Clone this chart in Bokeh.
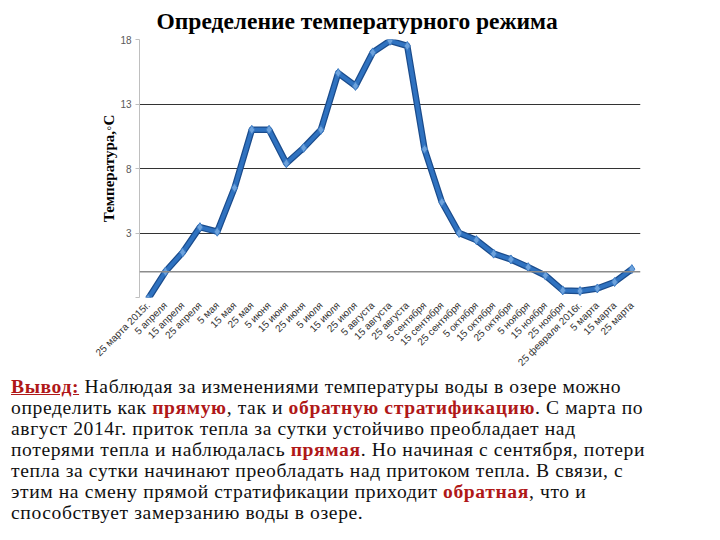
import math
from bokeh.plotting import figure
from bokeh.models import FixedTicker, Span, Div, Range1d
from bokeh.layouts import column
from bokeh.embed import file_html
from bokeh.resources import INLINE

dates = ["25 марта 2015г.", "5 апреля", "15 апреля", "25 апреля", "5 мая", "15 мая",
         "25 мая", "5 июня", "15 июня", "25 июня", "5 июля", "15 июля", "25 июля",
         "5 августа", "15 августа", "25 августа", "5 сентября", "15 сентября",
         "25 сентября", "5 октября", "15 октября", "25 октября", "5 ноября",
         "15 ноября", "25 ноября", "25 февраля 2016г.", "5 марта", "15 марта", "25 марта"]
temps = [-2.1, 0.0, 1.5, 3.45, 3.1, 6.5, 11.0, 11.0, 8.4, 9.6, 11.0, 15.4, 14.4,
         17.0, 17.9, 17.5, 9.5, 5.4, 3.0, 2.45, 1.4, 0.95, 0.35, -0.3, -1.45,
         -1.5, -1.3, -0.8, 0.2]
y_ticks = [-2, 3, 8, 13, 18]
y_tick_labels = {-2: "", 3: "3", 8: "8", 13: "13", 18: "18"}

p = figure(width=704, height=374, x_range=dates, y_range=Range1d(-2, 18),
           output_backend="svg", toolbar_location=None,
           min_border_left=139, min_border_right=64, min_border_top=0,
           min_border_bottom=70)
p.title.text = "Определение температурного режима"
p.title.text_font = "Liberation Serif"
p.title.text_font_size = "23.5px"
p.title.text_font_style = "bold"
p.title.text_color = "#000000"
p.title.align = "left"
p.title.offset = 17
p.title.standoff = 11

p.outline_line_color = None
p.background_fill_color = "white"
p.border_fill_color = "white"

p.xgrid.grid_line_color = None
p.ygrid.ticker = FixedTicker(ticks=y_ticks)
p.ygrid.grid_line_color = "#333333"
p.ygrid.grid_line_width = 1

p.yaxis.ticker = FixedTicker(ticks=y_ticks)
p.yaxis.major_label_overrides = y_tick_labels
p.yaxis.axis_label = "Температура,◦С"
p.yaxis.axis_label_text_font = "Liberation Serif"
p.yaxis.axis_label_text_font_size = "15px"
p.yaxis.axis_label_text_font_style = "bold"
p.yaxis.axis_label_text_color = "#000000"
p.yaxis.axis_label_standoff = 0
p.yaxis.axis_line_color = "#bfbfbf"
p.yaxis.major_tick_line_color = "#bfbfbf"
p.yaxis.major_tick_out = 4
p.yaxis.major_tick_in = 0
p.yaxis.minor_tick_line_color = None
p.yaxis.major_label_text_font = "Liberation Sans"
p.yaxis.major_label_text_font_size = "10px"
p.yaxis.major_label_text_color = "#595959"
p.yaxis.major_label_standoff = 4

p.xaxis.axis_line_color = None
p.xaxis.major_tick_line_color = None
p.xaxis.major_label_orientation = math.pi / 4
p.xaxis.major_label_text_font = "Liberation Sans"
p.xaxis.major_label_text_font_size = "10px"
p.xaxis.major_label_text_color = "#333333"
p.xaxis.major_label_standoff = 0

p.add_layout(Span(location=0, dimension="width", line_color="#8c8c8c", line_width=1.5))

p.line(dates, temps, line_color="#1b4c8c", line_width=6.5, line_join="round")
p.line(dates, temps, line_color="#2f72c0", line_width=4, line_join="round")
p.scatter(dates, temps, marker="diamond", size=9, fill_color="#6da2dc",
          line_color="#3d7cc4", line_width=1)

html_text = (
    '<div style="font-family: \'Liberation Serif\', serif; font-size: 19.6px; '
    'line-height: 21px; letter-spacing: 0.6px; color: #111; white-space: nowrap; '
    'margin-left: 6px; position: relative; top: -3px;">'
    '<span style="color:#b01818; font-weight:bold; text-decoration: underline;">Вывод:</span> '
    'Наблюдая за изменениями температуры воды в озере можно<br>'
    'определить как <b style="color:#b01818;">прямую</b>, так и '
    '<b style="color:#b01818;">обратную стратификацию</b>. С марта по<br>'
    'август 2014г. приток тепла за сутки устойчиво преобладает над<br>'
    'потерями тепла и наблюдалась <b style="color:#b01818;">прямая</b>. '
    'Но начиная с сентября, потери<br>'
    'тепла за сутки начинают преобладать над притоком тепла. В связи, с<br>'
    'этим на смену прямой стратификации приходит '
    '<b style="color:#b01818;">обратная</b>, что и<br>'
    'способствует замерзанию воды в озере.'
    '</div>'
)
div = Div(text=html_text, width=704, height=150)

layout = column(p, div, spacing=0)
open("out.html", "w").write(file_html(layout, INLINE))
